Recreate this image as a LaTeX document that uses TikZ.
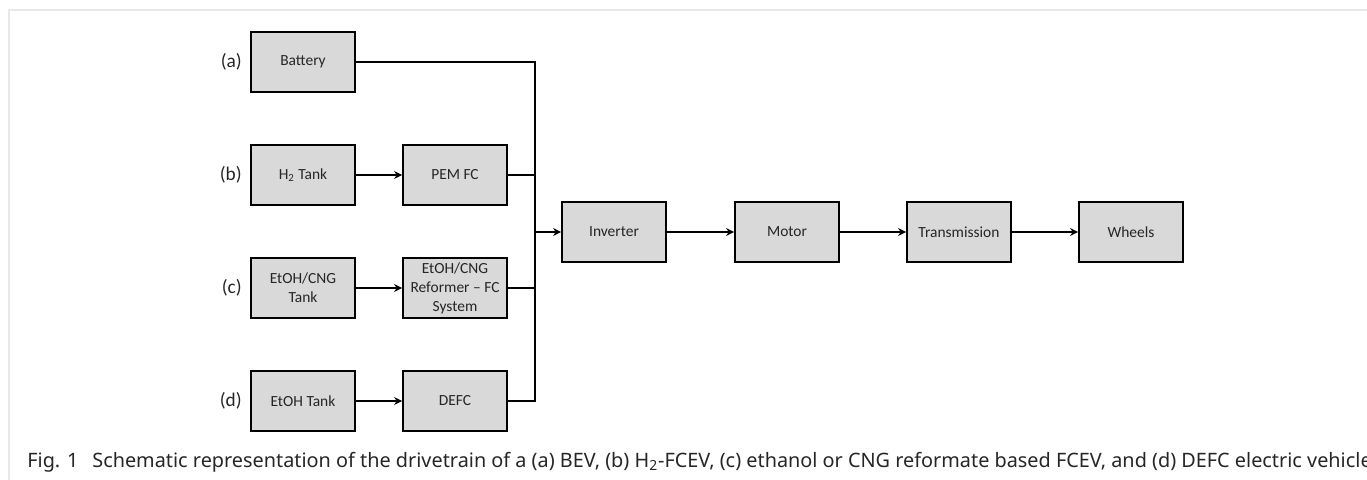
\documentclass[tikz,border=0pt]{standalone}
\usepackage{fontspec}
\setmainfont{Carlito}
\newfontfamily\capfont{Noto Sans}
\usetikzlibrary{arrows.meta,positioning}
\tikzset{
  caja/.style={draw=black,fill=gray!30,line width=1.1pt,minimum width=2.08cm,minimum height=1.2cm,
    align=center,inner sep=1pt,font=\fontsize{8.8}{10.8}\selectfont,text=black!85},
  flecha/.style={-{Stealth[length=4.5pt,width=4.5pt]},line width=0.85pt},
  linea/.style={line width=0.85pt},
  etiq/.style={font=\fontsize{11}{13}\selectfont,text=black!85},
  pie/.style={anchor=base west,inner sep=0pt,font=\capfont\fontsize{11.3}{13}\selectfont,text=black!85}
}

\begin{document}
\begin{tikzpicture}[x=0.02cm,y=-0.02cm]
\useasboundingbox (0,0) rectangle (1367,480);
\clip (0,0) rectangle (1367,480);
% marco
\draw[gray!18,line width=1.2pt] (9,480)--(9,10)--(1367,10);
% fuentes
\node[caja] (bateria) at (303,62) {Battery};
\node[caja] (tanqueh) at (303,175) {H\textsubscript{2} Tank};
\node[caja] (tanquec) at (303,288) {EtOH/CNG\\Tank};
\node[caja] (tanquee) at (303,401) {EtOH Tank};
\node[caja] (pemfc) at (455,175) {PEM FC};
\node[caja] (reformador) at (455,288) {EtOH/CNG\\Reformer -- FC\\System};
\node[caja] (defc) at (455,401) {DEFC};
\foreach \n/\t in {bateria/a, tanqueh/b, tanquec/c, tanquee/d}{
  \node[etiq,left=1.2pt of \n] (lab\t) {(\t)};}
% tren motriz
\node[caja] (inversor) at (614,232) {Inverter};
\node[caja] (motor) at (787,232) {Motor};
\node[caja] (transmision) at (959,232) {Transmission};
\node[caja] (ruedas) at (1131,232) {Wheels};
\coordinate (colector) at (535,232);
% conexiones
\draw[flecha] (tanqueh) -- (pemfc);
\draw[flecha] (tanquec) -- (reformador);
\draw[flecha] (tanquee) -- (defc);
\draw[linea] (bateria.east) -| (colector);
\draw[linea] (defc.east) -| (colector);
\draw[linea] (pemfc.east) -- (pemfc.east -| colector);
\draw[linea] (reformador.east) -- (reformador.east -| colector);
\draw[flecha] (colector) -- (inversor);
\draw[flecha] (inversor) -- (motor);
\draw[flecha] (motor) -- (transmision);
\draw[flecha] (transmision) -- (ruedas);
% pie
\node[pie] (fig) at (27,467) {Fig. 1};
\node[pie] (texto) at (92,467)
  {Schematic representation of the drivetrain of a (a) BEV, (b) H\textsubscript{2}-FCEV, (c) ethanol or CNG reformate based FCEV, and (d) DEFC electric vehicle};
\end{tikzpicture}
\end{document}
